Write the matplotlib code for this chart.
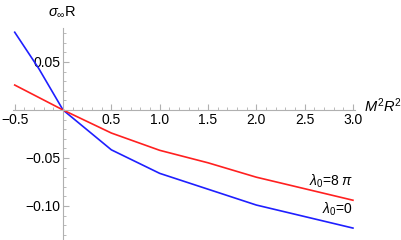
import matplotlib
matplotlib.use("Agg")
import matplotlib.pyplot as plt
from matplotlib.ticker import MultipleLocator, FixedLocator

plt.rcParams['font.family'] = ['Liberation Sans', 'DejaVu Sans']
plt.rcParams['mathtext.fontset'] = 'custom'
plt.rcParams['mathtext.it'] = 'Liberation Sans:italic'
plt.rcParams['mathtext.rm'] = 'Liberation Sans'

x_blue = [-0.5, -0.25, 0.0, 0.5, 1.0, 2.0, 3.0]
y_blue = [0.081, 0.043, 0.0, -0.0415, -0.066, -0.099, -0.123]
x_red = [-0.5, 0.0, 0.5, 1.0, 1.5, 2.0, 3.0]
y_red = [0.026, 0.0, -0.024, -0.042, -0.055, -0.070, -0.094]

xticks = [-0.5, 0.5, 1.0, 1.5, 2.0, 2.5, 3.0]
yticks = [0.05, -0.05, -0.10]

fig = plt.figure(figsize=(4.02, 2.4), dpi=100)
ax = fig.add_axes([0.0318, 0.0017, 0.851, 0.88])
ax.plot(x_blue, y_blue, color='#1f1fff', lw=1.2, clip_on=False)
ax.plot(x_red, y_red, color='#ff2020', lw=1.2, clip_on=False)
ax.set_xlim(-0.52, 3.02)
ax.set_ylim(-0.135, 0.085)

for s in ['top', 'right']:
    ax.spines[s].set_visible(False)
ax.spines['left'].set_position(('data', 0))
ax.spines['bottom'].set_position(('data', 0))
for s in ['left', 'bottom']:
    ax.spines[s].set_color('#b0b0b0')
    ax.spines[s].set_linewidth(0.8)

ax.xaxis.set_major_locator(FixedLocator(xticks))
ax.yaxis.set_major_locator(FixedLocator(yticks))
ax.xaxis.set_minor_locator(MultipleLocator(0.1))
ax.yaxis.set_minor_locator(MultipleLocator(0.01))
ax.set_xticklabels(['\u22120.5', '0.5', '1.0', '1.5', '2.0', '2.5', '3.0'])
ax.set_yticklabels(['0.05', '\u22120.05', '\u22120.10'])
ax.tick_params(which='major', direction='in', length=4, color='#b0b0b0', labelsize=10, pad=2)
ax.tick_params(which='minor', direction='in', length=2, color='#b0b0b0')

fig.text(48/402, 1 - 12/240, r'$\sigma_{\infty}$R', fontsize=10.5, va='center', ha='left')
fig.text(364/402, 1 - 106/240, r'$M^2R^2$', fontsize=10.5, va='center', ha='left')
ax.text(3.0, -0.0745, r'$\lambda_0$=8 $\pi$', fontsize=10, ha='right', va='center')
ax.text(3.0, -0.1035, r'$\lambda_0$=0', fontsize=10, ha='right', va='center')

fig.savefig('out.png', dpi=100)
